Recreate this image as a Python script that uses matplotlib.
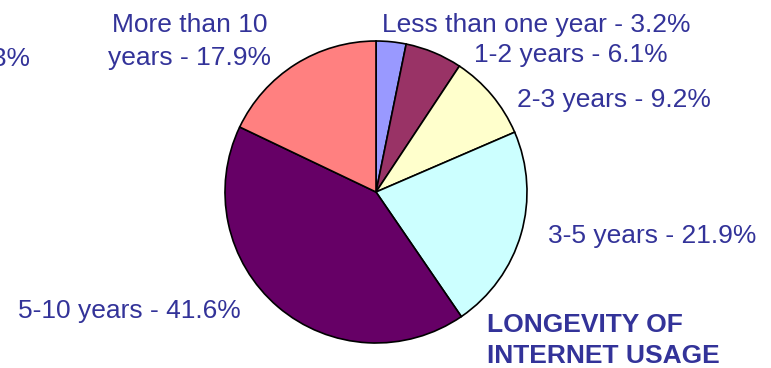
import matplotlib
matplotlib.use("Agg")
import matplotlib.pyplot as plt

plt.rcParams['font.family'] = ['Liberation Sans', 'DejaVu Sans']

labels = ["Less than one year - 3.2%", "1-2 years - 6.1%", "2-3 years - 9.2%",
          "3-5 years - 21.9%", "5-10 years - 41.6%", "More than 10\nyears - 17.9%"]
values = [3.2, 6.1, 9.2, 21.9, 41.6, 17.9]
colors = ["#9999FF", "#993366", "#FFFFCC", "#CCFFFF", "#660066", "#FF8080"]
title = "LONGEVITY OF\nINTERNET USAGE"

# label anchors in pixels: x, baseline of first line (from top), alignment
label_pos = [(382, 32, 'left'), (474, 62, 'left'), (517, 107, 'left'),
             (548, 243, 'left'), (18, 318, 'left'), (190, 32, 'center')]

W, H = 771, 368
txt_color = "#333399"

fig = plt.figure(figsize=(W / 100, H / 100), dpi=100)
cx, cy, r = 376, 192, 151
ax = fig.add_axes([(cx - r) / W, (H - cy - r) / H, 2 * r / W, 2 * r / H])
ax.pie(values, colors=colors, startangle=90, counterclock=False,
       wedgeprops=dict(edgecolor='black', linewidth=1.2))
ax.set_xlim(-1, 1)
ax.set_ylim(-1, 1)
ax.set_aspect('equal')
ax.axis('off')


def put(text, x, y, ha, step=33, **kw):
    for i, line in enumerate(text.split('\n')):
        fig.text(x / W, 1 - (y + i * step) / H, line, ha=ha, va='baseline',
                 fontsize=19, color=txt_color, **kw)


for lab, (x, y, ha) in zip(labels, label_pos):
    put(lab, x, y, ha)

# label cut off at the left edge, as in the source
put("0.3%", 30, 66, 'right')

put(title, 487, 332, 'left', step=31, fontweight='bold')

fig.savefig("out.png", dpi=100)
